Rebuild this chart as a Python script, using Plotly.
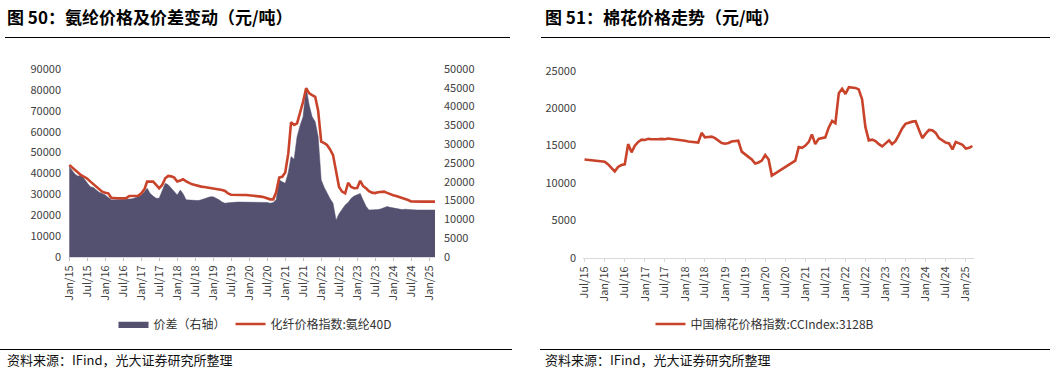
import plotly.graph_objects as go
import pandas as pd

# ---------------- data ----------------
# Left chart: monthly, Jan 2015 .. Mar 2025
spandex_start = "2015-01-01"
spandex_price = [
    44000, 42800, 41500, 40200, 39200, 38400, 37600, 36200, 35000, 33800, 32600, 31300,
    30800, 30500, 28400, 28100, 28100, 28100, 28100, 28200, 29200, 29200, 29200, 29300,
    30500, 32400, 36100, 36100, 36100, 34500, 32900, 34500, 37700, 38800, 38600, 38000,
    36100, 36600, 37200, 36200, 35300, 34800, 34500, 34000, 33700, 33500, 33300, 33100,
    32900, 32600, 32300, 32100, 31600, 30400, 29800, 29700, 29700, 29700, 29700, 29700,
    29600, 29400, 29200, 29000, 28900, 28600, 28200, 27600, 27600, 31000, 38000, 38400,
    40500, 49600, 64500, 63200, 64000, 69000, 74300, 80800, 78400, 77500, 76700, 70000,
    55200, 54500, 53600, 51500, 48800, 41000, 33500, 31300, 30500, 35500, 33500, 32900,
    33000, 36500, 34000, 32900, 31500, 30800, 30600, 31000, 31300, 31300, 30700, 30000,
    29600, 29200, 28800, 28400, 28000, 27300, 26600, 26500, 26500, 26500, 26500, 26500,
    26500, 26500, 26500,
]
spandex_spread = [
    24000, 23000, 22000, 21500, 21800, 20800, 19800, 18700, 18500, 17800, 17200, 16900,
    16500, 15800, 15200, 15200, 15200, 15200, 15300, 15300, 15400, 15500, 15700, 16000,
    16500, 17300, 18300, 16900, 16200, 15600, 15600, 17800, 19600, 19200, 18300, 17500,
    16500, 17800, 16800, 15200, 15100, 15000, 15000, 15000, 15200, 15500, 15900, 16000,
    16000, 15600, 15200, 14600, 14300, 14400, 14500, 14500, 14600, 14600, 14600, 14700,
    14700, 14700, 14600, 14600, 14700, 14600, 14500, 14300, 14500, 15200, 20500, 20000,
    19600, 22500, 26700, 26000, 32000, 35000, 37300, 45000, 40400, 37300, 36000, 32000,
    20500, 18500, 16900, 15500, 14300, 9800, 11500, 12800, 13800, 14500, 15600, 16200,
    16500, 16900, 15200, 13500, 12500, 12500, 12600, 12600, 12800, 13000, 13400, 13200,
    13000, 12800, 12700, 12600, 12700, 12600, 12700, 12500, 12500, 12500, 12500, 12500,
    12500, 12500, 12500,
]
# Right chart: monthly, Jul 2015 .. Mar 2025
cotton_start = "2015-07-01"
cotton_index = [
    13150, 13100, 13050, 13000, 12950, 12900,
    12850, 12500, 12100, 11550, 12150, 12400, 12500, 15200, 14100, 15000, 15500, 15800,
    15750, 15900, 15850, 15800, 15850, 15900, 15850, 15950, 15900, 15900, 15850, 15800,
    15650, 15550, 15500, 15500, 15400, 16700, 16100, 16150, 16200, 16000, 15650, 15350,
    15250, 15350, 15550, 15600, 15650, 14200, 13900, 13500, 13150, 12600, 12750, 13000,
    13750, 13150, 11000, 11300, 11600, 11900, 12100, 12400, 12700, 13000, 14800, 14700,
    15000, 15500, 16500, 15200, 15900, 15950, 16100, 17400, 18300, 18000, 22000, 22600,
    21900, 22800, 22800, 22700, 22500, 21200, 17500, 15700, 15800, 15600, 15200, 14900,
    15300, 15700, 15200, 15600, 16400, 17300, 17900, 18100, 18200, 18250, 17000, 16000,
    16600, 17100, 17050, 16700, 16000, 15700, 15400, 15300, 14500, 15500, 15300, 15100,
    14600, 14700, 14950,
]
left_title = "图 50：氨纶价格及价差变动（元/吨）"
right_title = "图 51：棉花价格走势（元/吨）"
source_text = "资料来源：IFind，光大证券研究所整理"
name_spread = "价差（右轴）"
name_price = "化纤价格指数:氨纶40D"
name_cotton = "中国棉花价格指数:CCIndex:3128B"

spandex_dates = pd.date_range(spandex_start, periods=len(spandex_price), freq="MS")
cotton_dates = pd.date_range(cotton_start, periods=len(cotton_index), freq="MS")

# ---------------- figure ----------------
W, H = 1054, 370
FONT = "Noto Sans CJK SC"
AREA = "#545070"
RED = "#C9432B"
TXT = "#404040"

def px_x(p):
    return p / W

def px_y(p):
    return 1 - p / H

fig = go.Figure()
fig.add_trace(go.Scatter(
    x=spandex_dates, y=spandex_spread, name=name_spread, mode="lines",
    fill="tozeroy", fillcolor=AREA, line=dict(color=AREA, width=0.5),
    xaxis="x", yaxis="y", legend="legend"))
fig.add_trace(go.Scatter(
    x=spandex_dates, y=spandex_price, name=name_price, mode="lines",
    line=dict(color=RED, width=2.6), xaxis="x", yaxis="y2", legend="legend"))
fig.add_trace(go.Scatter(
    x=cotton_dates, y=cotton_index, name=name_cotton, mode="lines",
    line=dict(color=RED, width=2.6), xaxis="x2", yaxis="y3", legend="legend2"))

tickfont = dict(family=FONT, size=11, color=TXT)
left_dom_x = [px_x(68), px_x(435)]
right_dom_x = [px_x(583), px_x(974)]

fig.update_layout(
    width=W, height=H, margin=dict(l=0, r=0, t=0, b=0, pad=0, autoexpand=False),
    paper_bgcolor="white", plot_bgcolor="white",
    font=dict(family=FONT, size=12, color="#222"),
    xaxis=dict(domain=left_dom_x, anchor="y", type="date", automargin=False,
               range=["2014-12-19", "2025-03-01"],
               tick0="2015-01-01", dtick="M6", tickformat="%b/%y", tickangle=-90,
               ticks="outside", ticklen=3, tickcolor="#bfbfbf",
               showline=True, linecolor="#d9d9d9", linewidth=1,
               showgrid=False, zeroline=False, tickfont=tickfont),
    yaxis=dict(domain=[px_y(257), px_y(69)], anchor="x", side="right", automargin=False,
               range=[0, 50000], dtick=5000, tickformat="d",
               showgrid=False, zeroline=False, showline=False,
               ticks="", ticklabelstandoff=8, tickfont=tickfont),
    yaxis2=dict(overlaying="y", anchor="x", side="left", automargin=False,
                range=[0, 90000], dtick=10000, tickformat="d",
                showgrid=False, zeroline=False, showline=False,
                ticks="", ticklabelstandoff=6, tickfont=tickfont),
    xaxis2=dict(domain=right_dom_x, anchor="y3", type="date", automargin=False,
                range=["2015-06-17", "2025-03-16"],
                tick0="2015-07-01", dtick="M6", tickformat="%b/%y", tickangle=-90,
                ticks="outside", ticklen=3, tickcolor="#d9d9d9",
                showline=True, linecolor="#d9d9d9", linewidth=1,
                showgrid=False, zeroline=False, tickfont=tickfont),
    yaxis3=dict(domain=[px_y(258), px_y(70.7)], anchor="x2", automargin=False,
                range=[0, 25000], dtick=5000, tickformat="d",
                showgrid=False, zeroline=False, showline=False,
                ticks="", ticklabelstandoff=6, tickfont=tickfont),
    legend=dict(orientation="h", x=px_x(255), xanchor="center",
                y=px_y(324), yanchor="middle", itemwidth=30,
                font=dict(family=FONT, size=12, color="#333"),
                bgcolor="rgba(0,0,0,0)", traceorder="normal"),
    legend2=dict(orientation="h", x=px_x(765), xanchor="center",
                 y=px_y(324), yanchor="middle", itemwidth=30,
                 font=dict(family=FONT, size=12, color="#333"),
                 bgcolor="rgba(0,0,0,0)"),
    showlegend=True,
)

# titles
for xpos, txt in [(5, left_title), (543, right_title)]:
    fig.add_annotation(x=px_x(xpos), y=px_y(16), xref="paper", yref="paper",
                       xanchor="left", yanchor="middle", showarrow=False,
                       text=f"<b>{txt}</b>",
                       font=dict(family=FONT, size=17, color="#000"))
# source
for xpos in [5, 543]:
    fig.add_annotation(x=px_x(xpos), y=px_y(359), xref="paper", yref="paper",
                       xanchor="left", yanchor="middle", showarrow=False,
                       text=source_text,
                       font=dict(family=FONT, size=13, color="#111"))
# rules
for (x0, x1) in [(5, 510), (541, 1050)]:
    fig.add_shape(type="line", xref="paper", yref="paper",
                  x0=px_x(x0), x1=px_x(x1), y0=px_y(37.5), y1=px_y(37.5),
                  line=dict(color="#000", width=1))
for (x0, x1) in [(0, 512), (540, 1050)]:
    fig.add_shape(type="line", xref="paper", yref="paper",
                  x0=px_x(x0), x1=px_x(x1), y0=px_y(349.5), y1=px_y(349.5),
                  line=dict(color="#000", width=1))

fig.write_html(
    "out.html",
    config={"displayModeBar": False},
    post_script="document.body.style.margin='0';document.body.style.overflow='hidden';",
)
